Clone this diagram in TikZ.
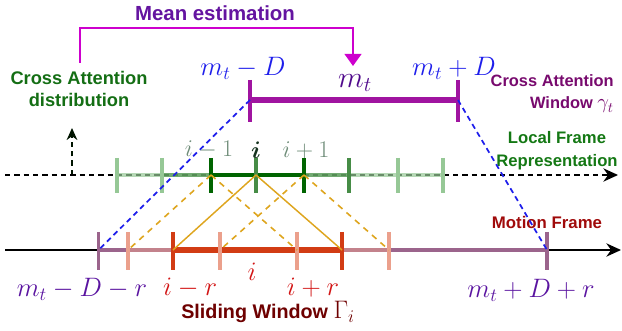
\RequirePackage{fix-cm}
\documentclass[tikz,border=0pt]{standalone}
\usepackage{fontspec}
\setmainfont{Liberation Sans}
\usepackage{bm}
\usetikzlibrary{arrows.meta}
\definecolor{magline}{RGB}{205,0,205}
\definecolor{meancol}{RGB}{100,20,160}
\definecolor{cadcol}{RGB}{20,110,20}
\definecolor{cawcol}{RGB}{120,10,110}
\definecolor{winline}{RGB}{160,20,160}
\definecolor{bluecol}{RGB}{30,30,235}
\definecolor{mtcol}{RGB}{80,10,140}
\definecolor{lfrcol}{RGB}{20,120,20}
\definecolor{mfcol}{RGB}{160,10,10}
\definecolor{botcol}{RGB}{90,20,160}
\definecolor{redlab}{RGB}{210,20,20}
\definecolor{swcol}{RGB}{110,0,0}
\definecolor{motpurple}{RGB}{155,100,140}
\definecolor{salmon}{RGB}{235,160,140}
\definecolor{redseg}{RGB}{210,60,20}
\definecolor{orangec}{RGB}{222,165,30}
\definecolor{gdark}{RGB}{0,100,0}
\definecolor{gmed}{RGB}{70,140,70}
\definecolor{glight}{RGB}{150,200,150}
\definecolor{greylab}{RGB}{110,140,120}
\definecolor{idark}{RGB}{20,50,30}
\begin{document}
\begin{tikzpicture}[x=0.75pt,y=-0.75pt,
  txt/.style={inner sep=0pt, font=\bfseries},
  mlab/.style={inner sep=0pt, font=\fontsize{20}{24}\selectfont},
  blackarrow/.style={line width=1.1pt, -{Stealth[length=11pt,width=10pt]}},
  gtick/.style={line width=2.6pt},
  mtick/.style={line width=2.8pt},
  bluedash/.style={bluecol, line width=1.3pt, dash pattern=on 4pt off 3pt},
  orsolid/.style={orangec, line width=1.1pt},
  ordash/.style={orangec, line width=1.2pt, dash pattern=on 4.5pt off 4pt}
]
\useasboundingbox (0,0) rectangle (622,331);

% coordinates on the local frame line
\coordinate (L1) at (117,175);
\coordinate (L2) at (162,175);
\coordinate (L3) at (211,175);
\coordinate (L4) at (256,175);
\coordinate (L5) at (304,175);
\coordinate (L6) at (349,175);
\coordinate (L7) at (398,175);
\coordinate (L8) at (443,175);
% coordinates on the motion frame line
\coordinate (M1) at (98.5,250);
\coordinate (M2) at (128,250);
\coordinate (M3) at (173,250);
\coordinate (M4) at (220,250);
\coordinate (M5) at (297,250);
\coordinate (M6) at (342,250);
\coordinate (M7) at (389,250);
\coordinate (M8) at (547,250);
% window
\coordinate (W1) at (250,100);
\coordinate (W2) at (458,100);
% axis ends
\coordinate (ls) at (5,175);
\coordinate (le) at (618,175);
\coordinate (ms) at (5,250);
\coordinate (me) at (621,250);
\coordinate (upS) at (72,175);
\coordinate (upE) at (72,128);
\coordinate (meS) at (80,63);
\coordinate (meE) at (353,66);

% texts
\node[txt, text=meancol, font=\bfseries\fontsize{15.3}{18}\selectfont] (mean) at (215,13) {Mean estimation};
\node[txt, text=cadcol, align=center, font=\bfseries\fontsize{13.7}{16.5}\selectfont] (cad) at (79,89) {Cross Attention\\distribution};
\node[txt, text=cawcol, align=right, anchor=east, font=\bfseries\fontsize{12.3}{16.5}\selectfont] (caw) at (614,94) {Cross Attention\\Window {\fontsize{15.5}{16}\selectfont$\gamma_t$}};
\node[txt, text=lfrcol, align=center, font=\bfseries\fontsize{12.5}{17}\selectfont] (lfr) at (557,151) {Local Frame\\Representation};
\node[txt, text=mfcol, font=\bfseries\fontsize{12.6}{15}\selectfont] (mf) at (547,222) {Motion Frame};
\node[txt, text=swcol, font=\bfseries\fontsize{14.8}{18}\selectfont] (sw) at (268,312) {Sliding Window {\fontsize{19}{20}\selectfont$\Gamma_i$}};

\node[mlab, text=bluecol] (mtmD) at (243,68) {$m_t-D$};
\node[mlab, text=bluecol] (mtpD) at (454,68) {$m_t+D$};
\node[mlab, text=mtcol, font=\fontsize{22.5}{26}\selectfont] (mt) at (355,83) {$m_t$};
\node[mlab, text=greylab, font=\fontsize{18}{22}\selectfont] (im1) at (209,150) {$i-1$};
\node[mlab, text=idark, font=\fontsize{18}{22}\selectfont] (ic) at (256,150) {$\bm{i}$};
\node[mlab, text=greylab, font=\fontsize{18}{22}\selectfont] (ip1) at (306,150) {$i+1$};
\node[mlab, text=botcol] (bl) at (82,289) {$m_t-D-r$};
\node[mlab, text=redlab] (imr) at (190,288) {$i-r$};
\node[mlab, text=redlab] (ib) at (252,272) {$i$};
\node[mlab, text=redlab] (ipr) at (313,288) {$i+r$};
\node[mlab, text=botcol] (br) at (531,290) {$m_t+D+r$};

% mean estimation arrow
\draw[magline, line width=1.5pt, -{Triangle[length=9pt,width=12.5pt]}] (meS) |- (353,28) -- (meE);

% up arrow
\draw[black!80!gdark, line width=1.3pt, dash pattern=on 4pt off 3pt, -{Stealth[length=9pt,width=8pt]}] (upS) -- (upE);

% local frame line
\draw[blackarrow, dash pattern=on 4pt off 3pt] (ls) -- (le);
\draw[glight, opacity=0.7, line width=3.6pt] (L1) -- (L8);
\draw[gmed, opacity=0.6, line width=3.6pt] (L2) -- (L6);
\draw[gdark, line width=3.4pt] (L3) -- (L5);
\foreach \p/\c in {L1/glight, L2/glight, L3/gdark, L4/gmed, L5/gdark, L6/gmed, L7/glight, L8/glight}
  \draw[gtick, \c] (\p) ++(0,-17) -- ++(0,35);

% motion frame line
\draw[blackarrow] (ms) -- (me);
\draw[motpurple, line width=3.4pt] (M1) -- (M8);
\draw[salmon, opacity=0.5, line width=3.4pt] (M2) -- (M7);
\draw[redseg, line width=4.5pt] (M3) -- (M6);
\foreach \p/\c in {M1/motpurple, M2/salmon, M3/redseg, M4/salmon, M5/salmon, M6/redseg, M7/salmon, M8/motpurple}
  \draw[mtick, \c] (\p) ++(0,-18) -- ++(0,38);

% cross attention window
\draw[winline, line width=3.8pt] (W1) -- (W2);
\draw[winline, line width=3pt] (W1) ++(0,-20) -- ++(0,42);
\draw[winline, line width=3pt] (W2) ++(0,-20) -- ++(0,42);

% connectors
\draw[bluedash] (W1) -- (M1);
\draw[bluedash] (W2) -- (M8);
\draw[orsolid] (L4) -- (M3);
\draw[orsolid] (L4) -- (M6);
\draw[ordash] (L3) -- (M2);
\draw[ordash] (L3) -- (M5);
\draw[ordash] (L5) -- (M4);
\draw[ordash] (L5) -- (M7);
\end{tikzpicture}
\end{document}
